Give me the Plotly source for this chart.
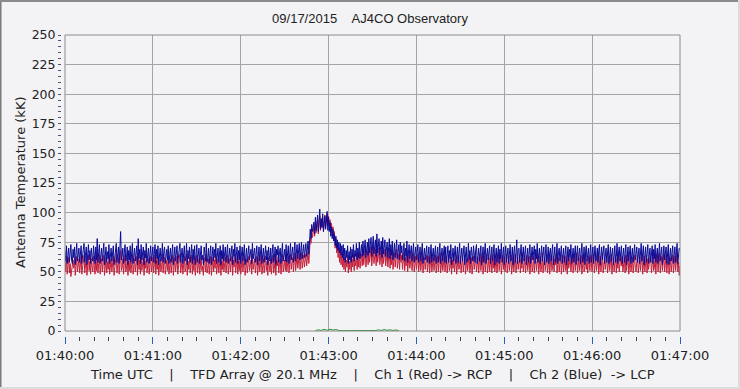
import plotly.graph_objects as go
import pandas as pd

# ---------------- data ----------------
start_time = "2015-09-17 01:40:00"
sample_ms = 500          # two samples per second
n_samples = 841          # 01:40:00 .. 01:47:00

# Ch 2 (Blue) -> LCP, kK   (20 samples = 10 s per row)
blue_lcp = [
    68,59,72,57,64,70,58,66,73,60,57,69,62,71,56,65,74,59,63,70,
    58,67,72,57,61,69,74,58,64,71,56,62,73,60,68,57,70,63,59,72,
    65,57,71,60,78,58,66,73,57,62,70,59,68,74,56,64,71,58,67,61,
    73,57,63,70,59,66,72,56,61,69,74,58,65,71,57,68,84,60,63,70,
    57,66,73,59,62,71,56,68,60,72,58,65,74,57,63,70,59,67,72,56,
    78,61,69,57,73,60,65,71,56,68,62,74,58,66,70,57,63,72,59,67,
    71,58,64,73,57,69,61,72,56,66,70,59,63,74,58,67,71,57,62,69,
    60,72,57,65,70,58,68,73,56,63,71,59,66,72,57,61,69,74,58,64,
    70,57,67,72,59,62,74,56,68,61,71,58,65,73,57,69,60,72,56,66,
    73,58,63,70,57,68,72,60,64,56,71,66,59,74,58,62,70,57,67,72,
    56,65,71,59,69,62,74,57,66,70,58,63,72,56,68,61,73,59,64,71,
    58,67,73,57,62,70,59,66,72,56,69,63,74,58,65,71,57,68,60,72,
    57,64,71,59,68,73,56,62,70,58,66,72,60,63,69,57,74,61,65,70,
    58,68,72,56,63,71,59,67,73,57,62,70,58,65,72,60,68,56,71,64,
    59,70,57,66,73,58,62,71,56,69,64,72,58,67,70,57,63,74,59,66,
    69,59,73,58,66,72,57,68,74,60,65,71,58,70,75,59,67,73,61,69,
    74,60,68,75,61,70,73,62,67,74,63,71,76,65,80,86,78,90,84,88,
    92,82,96,85,90,98,84,93,103,86,95,88,99,84,91,97,86,94,101,85,
    96,84,92,80,88,78,86,76,82,72,80,70,77,68,75,66,74,64,72,62,
    73,60,70,58,68,62,72,57,67,60,71,58,69,62,73,59,68,63,74,60,
    70,62,75,61,68,73,63,76,64,71,77,62,69,75,64,78,66,72,79,63,
    74,80,65,71,77,63,82,66,73,78,64,70,76,62,79,65,72,77,63,70,
    75,62,69,78,61,73,64,76,60,71,74,62,68,77,61,70,73,60,75,66,
    72,60,67,74,59,70,63,76,58,68,73,61,66,72,59,69,74,58,65,71,
    60,68,73,58,64,71,59,67,74,57,63,70,60,68,72,58,65,71,57,69,
    73,58,64,70,59,67,72,57,65,71,58,69,74,57,62,70,59,66,72,58,
    71,57,65,72,58,68,61,73,56,64,70,59,67,72,57,62,71,58,69,74,
    57,63,70,59,67,72,56,65,71,58,62,74,60,68,57,71,64,59,72,66,
    58,69,73,57,64,70,59,66,72,56,63,71,58,68,74,57,65,70,60,67,
    72,57,62,71,59,68,73,56,65,70,58,64,72,57,69,61,74,58,66,71,
    56,67,72,58,63,70,57,68,73,59,62,71,56,66,72,58,64,77,57,69,
    70,58,65,73,57,62,71,59,68,72,56,64,70,58,67,73,57,63,71,60,
    66,72,57,69,61,74,58,65,70,57,68,72,59,63,71,56,67,73,58,62,
    71,57,66,70,59,64,73,56,68,71,58,62,74,57,66,70,59,65,72,57,
    63,70,58,67,72,56,65,71,59,69,62,73,57,64,70,58,68,72,56,66,
    72,59,63,70,57,68,74,58,62,71,56,67,72,59,65,70,57,69,73,58,
    64,71,57,66,72,59,62,70,58,68,73,56,65,71,60,67,72,57,63,70,
    58,69,73,57,64,71,59,66,70,56,68,72,58,63,74,57,66,71,59,68,
    72,57,65,70,58,67,73,56,62,71,59,68,72,57,64,70,58,66,73,60,
    67,71,58,63,70,57,69,74,59,65,72,56,66,71,58,68,73,57,64,70,
    58,66,72,57,69,61,73,58,65,70,57,67,74,59,63,71,56,68,72,60,
    64,71,57,68,73,56,65,70,59,67,72,57,63,71,58,69,74,57,66,70,
    68,
]

# Ch 1 (Red) -> RCP, kK
red_rcp = [
    60,50,63,48,55,62,49,57,46,51,58,60,53,62,47,56,63,50,54,61,
    49,58,63,48,52,60,64,49,55,62,47,53,64,51,59,48,61,54,50,63,
    56,48,62,51,66,49,57,64,48,53,61,50,59,64,47,55,62,49,58,52,
    64,48,54,61,50,57,63,47,52,60,65,49,56,62,48,59,68,51,54,61,
    48,57,64,50,53,62,47,59,51,63,49,56,65,48,54,61,50,58,63,47,
    66,52,60,48,64,51,56,62,47,59,53,65,49,57,61,48,54,63,50,58,
    62,49,55,64,48,60,52,63,47,57,61,50,54,65,49,58,62,48,53,60,
    51,63,48,56,61,49,59,64,47,54,62,50,57,63,48,52,60,65,49,55,
    61,48,58,63,50,53,65,47,59,52,62,49,56,64,48,60,51,63,47,57,
    64,49,54,61,48,59,63,51,55,47,62,57,50,65,49,53,61,48,58,63,
    47,56,62,50,60,53,65,48,57,61,49,54,63,47,59,52,64,50,55,62,
    49,58,64,48,53,61,50,57,63,47,60,54,65,49,56,62,48,59,51,63,
    48,55,62,50,59,64,47,53,61,49,57,63,51,54,60,48,65,52,56,61,
    49,59,63,47,54,62,50,58,64,48,53,61,49,56,63,51,59,47,62,55,
    50,61,48,57,64,49,53,62,47,60,55,63,49,58,61,48,54,65,50,57,
    60,51,64,50,57,63,49,59,65,52,56,62,50,61,66,51,58,64,53,60,
    65,52,59,66,53,61,64,54,58,65,55,62,67,57,72,78,74,84,79,85,
    88,80,91,83,87,94,82,90,97,85,92,87,96,84,90,98,88,95,99,89,
    97,88,94,84,91,80,88,76,84,70,78,66,73,62,70,58,68,56,66,54,
    65,52,62,50,60,54,64,49,59,52,63,50,61,54,65,51,60,55,66,52,
    63,54,67,53,60,65,55,68,56,63,69,54,61,67,56,70,58,64,71,55,
    66,72,57,63,69,55,73,58,65,70,56,62,68,54,71,57,64,69,55,62,
    67,54,61,70,53,65,56,68,52,63,66,54,60,69,53,62,65,52,67,58,
    64,52,59,66,51,62,55,68,50,60,65,53,58,64,51,61,66,50,57,63,
    52,60,65,50,56,63,51,59,66,49,55,62,52,60,64,50,57,63,49,61,
    65,50,56,62,51,59,64,49,57,63,50,61,66,49,54,62,51,58,64,50,
    56,63,49,58,64,51,54,62,48,60,53,65,50,57,61,48,59,64,52,55,
    63,49,57,62,50,59,64,48,54,61,51,60,65,49,56,62,48,58,63,52,
    59,63,50,55,62,49,61,66,51,57,64,48,58,63,50,60,65,49,56,62,
    50,58,64,49,61,53,65,50,57,62,49,59,66,51,55,63,48,60,64,52,
    62,50,57,65,49,54,63,51,60,64,48,56,62,50,59,65,49,55,63,52,
    58,64,49,61,53,66,50,57,62,49,60,64,51,55,63,48,59,65,50,54,
    63,49,58,62,51,56,65,48,60,63,50,54,66,49,58,62,51,57,64,49,
    55,62,48,59,64,51,54,63,50,61,56,65,49,56,62,50,60,64,48,58,
    64,50,55,63,51,60,48,65,53,57,62,50,59,64,49,54,63,51,61,66,
    49,55,62,51,59,64,48,57,63,50,54,66,52,60,49,63,56,51,64,58,
    50,61,65,49,56,62,51,58,64,48,55,63,50,60,66,49,57,62,52,59,
    64,49,54,63,51,60,65,48,57,62,50,59,64,49,61,53,65,50,58,62,
    55,63,50,57,62,49,64,51,56,65,48,60,63,50,54,62,49,58,64,53,
    50,59,64,49,55,62,51,60,65,48,57,63,50,56,64,49,61,52,58,62,
    62,49,56,65,51,54,63,48,60,64,50,57,66,49,55,63,51,58,65,50,
    56,64,49,60,65,48,57,62,50,59,64,49,55,63,51,60,66,50,58,47,
    55,
]

# small third channel near zero (green), seconds after 01:40:00
green_seconds = [171,173,175,177,179,181,183,185,187,189,
                 212,214,216,218,220,222,224,226,228]
green_values  = [0.3,1.0,0.5,1.4,0.6,1.5,0.8,1.2,0.5,0.3,
                 0.4,0.9,0.5,1.2,0.6,1.0,0.4,0.9,0.3]

y_ticks = [0, 25, 50, 75, 100, 125, 150, 175, 200, 225, 250]
x_tick_labels = ["01:40:00", "01:41:00", "01:42:00", "01:43:00",
                 "01:44:00", "01:45:00", "01:46:00", "01:47:00"]

sp = "\u00a0" * 4
title_text = "09/17/2015\u00a0\u00a0\u00a0\u00a0AJ4CO Observatory"
y_title = "Antenna Temperature (kK)"
x_title = ("Time UTC" + sp + "|" + sp + "TFD Array @ 20.1 MHz" + sp + "|" + sp +
           "Ch 1 (Red) -> RCP" + sp + "|" + sp + "Ch 2 (Blue)\u00a0\u00a0-> LCP")

# ---------------- figure ----------------
t0 = pd.Timestamp(start_time)
times = pd.date_range(t0, periods=n_samples, freq=f"{sample_ms}ms")
green_times = [t0 + pd.Timedelta(seconds=s) for s in green_seconds]
tick_vals = [t0 + pd.Timedelta(minutes=i) for i in range(len(x_tick_labels))]

fig = go.Figure()
fig.add_trace(go.Scatter(x=times, y=red_rcp, mode="lines",
                         line=dict(color="#C41E3A", width=1), name="Ch 1 (Red)"))
fig.add_trace(go.Scatter(x=times, y=blue_lcp, mode="lines",
                         line=dict(color="#0A0A96", width=1), name="Ch 2 (Blue)"))
fig.add_trace(go.Scatter(x=green_times, y=green_values, mode="lines",
                         line=dict(color="#22922A", width=1), name="Ch 3"))

W, H = 740, 389
ml, mr, mt, mb = 55, 60, 35, 53
pw = W - ml - mr
ph = H - mt - mb
bg = "#F3F3F5"
font_main = "DejaVu Sans"

fig.update_layout(
    width=W, height=H,
    margin=dict(l=ml, r=mr, t=mt, b=mb, pad=0),
    paper_bgcolor=bg, plot_bgcolor=bg,
    showlegend=False,
    font=dict(family=font_main, size=12, color="#222222"),
    title=dict(text=title_text, x=0.5, xref="container", xanchor="center",
               y=1 - 18 / H, yref="container", yanchor="middle",
               font=dict(family="Liberation Sans Narrow, Liberation Sans", size=13, color="#222222")),
    xaxis=dict(
        type="date",
        domain=[10 / pw, 1],
        anchor="free", position=0,
        range=[tick_vals[0], tick_vals[-1]],
        tickvals=tick_vals, ticktext=x_tick_labels,
        ticks="outside", ticklen=7, tickcolor="#2A5CC0", tickwidth=1,
        minor=dict(dtick=10000, ticks="outside", ticklen=4, tickcolor="#444444", tickwidth=1, showgrid=False),
        showgrid=True, gridcolor="#A4A4A4", gridwidth=1,
        showline=False, zeroline=False,
        tickfont=dict(family=font_main, size=13, color="#222222"),
    ),
    yaxis=dict(
        domain=[5 / ph, 1],
        anchor="free", position=6 / pw,
        range=[0, 250],
        tickvals=y_ticks,
        ticks="outside", ticklen=3, tickcolor="#4A5680", tickwidth=1,
        minor=dict(dtick=5, ticks="outside", ticklen=3, tickcolor="#4A5680", tickwidth=1, showgrid=False),
        showgrid=True, gridcolor="#A4A4A4", gridwidth=1,
        showline=False, zeroline=False,
        tickfont=dict(family=font_main, size=12.5, color="#222222"),
    ),
)

# plot border
fig.add_shape(type="rect", xref="x domain", yref="y domain", x0=0, x1=1, y0=0, y1=1,
              line=dict(color="#8C8C8C", width=1), fillcolor="rgba(0,0,0,0)", layer="above")

# y-axis title
fig.add_annotation(text=y_title, textangle=-90, xref="paper", x=(20 - ml) / pw, xanchor="center",
                   yref="y domain", y=0.5, yanchor="middle", showarrow=False,
                   font=dict(family=font_main, size=13, color="#222222"))
# bottom caption
fig.add_annotation(text=x_title, xref="x domain", x=0.5, xanchor="center",
                   yref="paper", y=-(374 - (H - mb)) / ph, yanchor="middle", showarrow=False,
                   font=dict(family=font_main, size=13, color="#222222"))

# window frame (sunken border)
fig.add_shape(type="line", xref="paper", yref="paper",
              x0=-ml / pw + 0.5 / pw, x1=-ml / pw + 0.5 / pw, y0=-mb / ph, y1=1 + mt / ph,
              line=dict(color="#7A7A7A", width=2))
fig.add_shape(type="line", xref="paper", yref="paper",
              x0=-ml / pw, x1=1 + mr / pw, y0=1 + mt / ph - 1 / ph, y1=1 + mt / ph - 1 / ph,
              line=dict(color="#8A8A8A", width=2))
fig.add_shape(type="line", xref="paper", yref="paper",
              x0=-ml / pw, x1=1 + mr / pw, y0=-mb / ph + 1 / ph, y1=-mb / ph + 1 / ph,
              line=dict(color="#DCDCDC", width=2))
fig.add_shape(type="line", xref="paper", yref="paper",
              x0=1 + mr / pw - 1 / pw, x1=1 + mr / pw - 1 / pw, y0=-mb / ph, y1=1 + mt / ph,
              line=dict(color="#DCDCDC", width=2))

fig.write_html("out.html", config={"displayModeBar": False},
               post_script="document.body.style.margin='0px';")
